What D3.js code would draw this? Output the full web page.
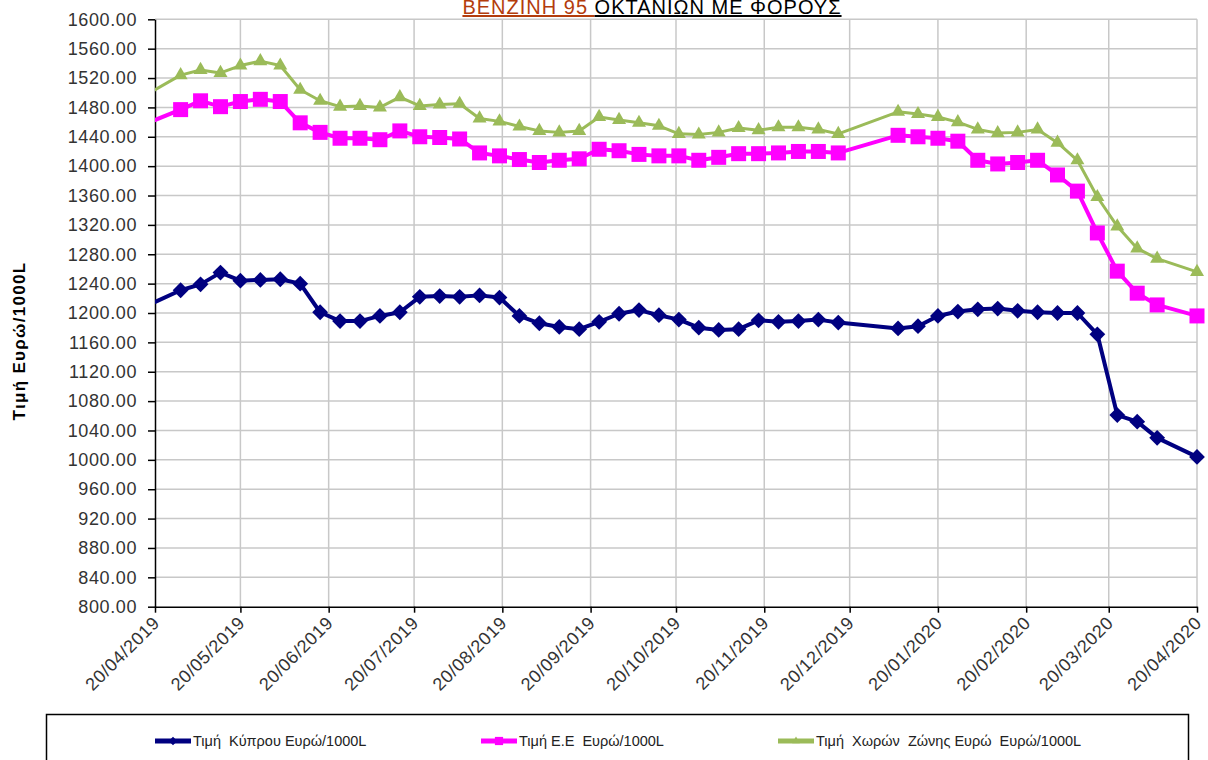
<!DOCTYPE html>
<meta charset="utf-8">
<style>
body { margin: 0; background: #fff; }
#chart { background: #fff; }
#chart text { font-family: "Liberation Sans", Arial, sans-serif; }
.axis path, .axis line { stroke: #000; stroke-width: 1.5px; }
.axis text { fill: #333; font-size: 18px; letter-spacing: 0.6px; }
.grid line { stroke: #c8c8c8; stroke-width: 1.5px; }
</style>
<svg id="chart" width="1208" height="760"></svg>
<script src="https://cdn.jsdelivr.net/npm/d3@7"></script>
<script>

// weekly prices (Monday) - first row sits before the axis start and gets clipped
var dates = [
	"2019-04-15",
	"2019-04-29", "2019-05-06", "2019-05-13", "2019-05-20", "2019-05-27",
	"2019-06-03", "2019-06-10", "2019-06-17", "2019-06-24",
	"2019-07-01", "2019-07-08", "2019-07-15", "2019-07-22", "2019-07-29",
	"2019-08-05", "2019-08-12", "2019-08-19", "2019-08-26",
	"2019-09-02", "2019-09-09", "2019-09-16", "2019-09-23", "2019-09-30",
	"2019-10-07", "2019-10-14", "2019-10-21", "2019-10-28",
	"2019-11-04", "2019-11-11", "2019-11-18", "2019-11-25",
	"2019-12-02", "2019-12-09", "2019-12-16",
	"2020-01-06", "2020-01-13", "2020-01-20", "2020-01-27",
	"2020-02-03", "2020-02-10", "2020-02-17", "2020-02-24",
	"2020-03-02", "2020-03-09", "2020-03-16", "2020-03-23", "2020-03-30",
	"2020-04-06", "2020-04-20"
];

var cyprus = [
	1206,
	1231, 1239, 1255, 1244, 1245,
	1246, 1240, 1201, 1189,
	1189, 1196, 1201, 1222, 1223,
	1222, 1224, 1221, 1196,
	1186, 1181, 1178, 1188, 1199,
	1204, 1197, 1191, 1180,
	1177, 1178, 1190, 1188,
	1189, 1191, 1187,
	1179, 1182, 1196, 1202,
	1205, 1206, 1203, 1201,
	1200, 1200, 1171, 1061, 1052,
	1030, 1004
];

var eu = [
	1455,
	1477, 1489, 1481, 1488, 1491,
	1488, 1459, 1446, 1438,
	1438, 1436, 1448, 1440, 1439,
	1437, 1418, 1414, 1409,
	1405, 1408, 1410, 1423, 1421,
	1416, 1414, 1414, 1408,
	1412, 1417, 1417, 1418,
	1420, 1420, 1418,
	1442, 1440, 1438, 1434,
	1408, 1403, 1405, 1408,
	1388, 1366, 1309, 1257, 1227,
	1211, 1196
];

var euroZone = [
	1493,
	1524, 1531, 1527, 1537, 1543,
	1537, 1504, 1489, 1481,
	1482, 1480, 1494, 1482, 1484,
	1485, 1465, 1461, 1454,
	1448, 1446, 1448, 1467, 1463,
	1459, 1455, 1444, 1443,
	1446, 1452, 1449, 1453,
	1453, 1450, 1444,
	1474, 1471, 1467, 1460,
	1450, 1445, 1446, 1450,
	1432, 1408, 1358, 1318, 1288,
	1274, 1256
];

var xTicks = [
	"2019-04-20", "2019-05-20", "2019-06-20", "2019-07-20", "2019-08-20",
	"2019-09-20", "2019-10-20", "2019-11-20", "2019-12-20", "2020-01-20",
	"2020-02-20", "2020-03-20", "2020-04-20"
];

var yTicks = d3.range(800, 1601, 40);

var seriesNames = [
	"Τιμή  Κύπρου Ευρώ/1000L",
	"Τιμή Ε.Ε  Ευρώ/1000L",
	"Τιμή  Χωρών  Ζώνης Ευρώ  Ευρώ/1000L"
];

var titleParts = ["ΒΕΝΖΙΝΗ 95 ", "ΟΚΤΑΝΙΩΝ ΜΕ ΦΟΡΟΥΣ"];
var yLabel = "Τιμή Ευρώ/1000L";

var parse = d3.timeParse("%Y-%m-%d");

// note: "top" is taken by window.top, so use other names
var svg = d3.select("#chart"),
	padLeft = 155, padTop = 19.3,
	width = 1042, height = 587.4,
	g = svg.append("g").attr("transform", "translate(" + padLeft + "," + padTop + ")");

var x = d3.scaleTime()
	.domain([parse(xTicks[0]), parse(xTicks[xTicks.length - 1])])
	.range([0, width]);

var y = d3.scaleLinear()
	.domain([800, 1600])
	.range([height, 0]);

var series = [
	{ name: seriesNames[0], values: cyprus, color: "#000080", width: 4, shape: "diamond" },
	{ name: seriesNames[1], values: eu, color: "#ff00ff", width: 4, shape: "square" },
	{ name: seriesNames[2], values: euroZone, color: "#9bbb59", width: 3, shape: "triangle" }
];

function marker(shape, scale) {
	scale = scale || 1;
	if (shape == "diamond") return d3.symbol().type(d3.symbolSquare).size(125 * scale)();
	if (shape == "square") return d3.symbol().type(d3.symbolSquare).size(225 * scale)();
	return d3.symbol().type(d3.symbolTriangle).size(85 * scale)();
}

// grid
g.append("g").attr("class", "grid")
	.selectAll("line")
	.data(yTicks.slice(1))
	.enter().append("line")
		.attr("x1", 0).attr("x2", width)
		.attr("y1", function(d) { return y(d); })
		.attr("y2", function(d) { return y(d); });

g.append("g").attr("class", "grid")
	.selectAll("line")
	.data(xTicks.slice(1))
	.enter().append("line")
		.attr("x1", function(d) { return x(parse(d)); })
		.attr("x2", function(d) { return x(parse(d)); })
		.attr("y1", 0).attr("y2", height);

// axes
g.append("g")
	.attr("class", "axis")
	.call(d3.axisLeft(y).tickValues(yTicks).tickFormat(d3.format(".2f")).tickSize(7).tickSizeOuter(0).tickPadding(11));

g.append("g")
	.attr("class", "axis")
	.attr("transform", "translate(0," + height + ")")
	.call(d3.axisBottom(x).tickValues(xTicks.map(parse)).tickFormat(d3.timeFormat("%d/%m/%Y")).tickSize(6).tickSizeOuter(0))
	.selectAll("text")
		.attr("text-anchor", "end")
		.attr("dx", "0")
		.attr("dy", "0.3em")
		.attr("letter-spacing", 1)
		.attr("transform", "translate(-5,7) rotate(-45)");

// lines, clipped on the left edge only
svg.append("clipPath").attr("id", "clip")
	.append("rect").attr("x", 0).attr("y", -20).attr("width", width + 20).attr("height", height + 40);

var line = d3.line()
	.x(function(d) { return x(d.date); })
	.y(function(d) { return y(d.value); });

var plot = g.append("g").attr("clip-path", "url(#clip)");

series.forEach(function(s) {
	var pts = s.values.map(function(v, i) { return { date: parse(dates[i]), value: v }; });

	plot.append("path")
		.datum(pts)
		.attr("fill", "none")
		.attr("stroke", s.color)
		.attr("stroke-width", s.width)
		.attr("stroke-linejoin", "round")
		.attr("d", line);

	plot.append("g")
		.selectAll("path")
		.data(pts)
		.enter().append("path")
			.attr("fill", s.color)
			.attr("d", marker(s.shape))
			.attr("transform", function(d) {
				return "translate(" + x(d.date) + "," + y(d.value) + ")" + (s.shape == "diamond" ? " rotate(45)" : "");
			});
});

// title
var title = svg.append("text")
	.attr("x", 652)
	.attr("y", 14)
	.attr("text-anchor", "middle")
	.attr("font-size", 20)
	.attr("letter-spacing", 1)
	.style("white-space", "pre");
title.append("tspan").attr("fill", "#b33c0c").style("text-decoration", "underline").text(titleParts[0]);
title.append("tspan").attr("fill", "#000").style("text-decoration", "underline").text(titleParts[1]);

// y label
svg.append("text")
	.attr("transform", "translate(25,341) rotate(-90)")
	.attr("text-anchor", "middle")
	.attr("font-size", 17)
	.attr("font-weight", "bold")
	.attr("letter-spacing", 1.3)
	.text(yLabel);

// legend
svg.append("rect")
	.attr("x", 46.5).attr("y", 714.5)
	.attr("width", 1142).attr("height", 80)
	.attr("fill", "none")
	.attr("stroke", "#000")
	.attr("stroke-width", 1.5);

var legendX = [155, 481, 778];

var legend = svg.append("g")
	.selectAll("g")
	.data(series)
	.enter().append("g")
		.attr("transform", function(d, i) { return "translate(" + legendX[i] + ",741)"; });

legend.append("line")
	.attr("x1", 0).attr("x2", 36)
	.attr("stroke", function(d) { return d.color; })
	.attr("stroke-width", 5);

legend.append("path")
	.attr("fill", function(d) { return d.color; })
	.attr("d", function(d) { return marker(d.shape, 0.3); })
	.attr("transform", function(d) { return "translate(18,0)" + (d.shape == "diamond" ? " rotate(45)" : ""); });

legend.append("text")
	.attr("x", 38)
	.attr("dy", "0.35em")
	.attr("font-size", 14.5)
	.attr("fill", "#222")
	.style("white-space", "pre")
	.text(function(d) { return d.name; });

</script>
